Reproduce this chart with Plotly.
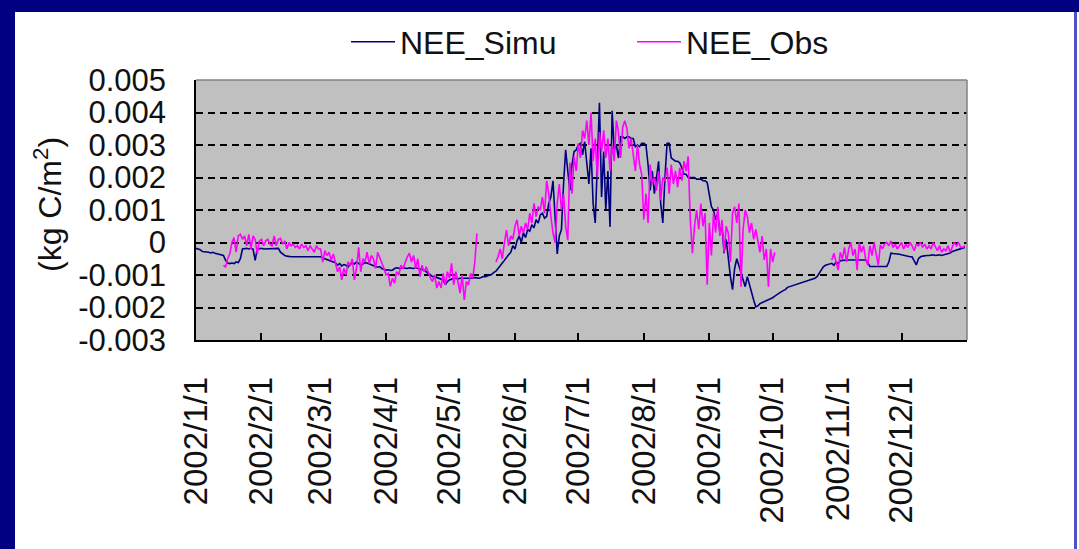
import plotly.graph_objects as go
import pandas as pd

# ---------------- data (g C/m2 per day; converted to kg C/m2 below) ----------------
month_starts = ["2002-01-01", "2002-02-01", "2002-03-01", "2002-04-01", "2002-05-01", "2002-06-01",
                "2002-07-01", "2002-08-01", "2002-09-01", "2002-10-01", "2002-11-01", "2002-12-01"]
x_tick_labels = ["2002/1/1", "2002/2/1", "2002/3/1", "2002/4/1", "2002/5/1", "2002/6/1",
                 "2002/7/1", "2002/8/1", "2002/9/1", "2002/10/1", "2002/11/1", "2002/12/1"]
y_tick_vals = [0.005, 0.004, 0.003, 0.002, 0.001, 0, -0.001, -0.002, -0.003]
y_tick_labels = ["0.005", "0.004", "0.003", "0.002", "0.001", "0", "-0.001", "-0.002", "-0.003"]

simu_jan = [-0.18, -0.2, -0.22, -0.28, -0.28, -0.3, -0.3, -0.32, -0.3, -0.33, -0.35, -0.38, -0.38, -0.4,
            -0.55, -0.63, -0.65, -0.63, -0.65, -0.6, -0.62, -0.5, -0.2, -0.18, -0.18, -0.2, -0.18, -0.2,
            -0.55, -0.2, -0.18]
simu_feb = [-0.18, -0.2, -0.2, -0.18, -0.18, -0.2, -0.2, -0.2, -0.18, -0.3, -0.35, -0.4, -0.42, -0.44,
            -0.44, -0.44, -0.43, -0.44, -0.44, -0.45, -0.44, -0.44, -0.44, -0.46, -0.44, -0.44, -0.44, -0.45]
simu_mar = [-0.44, -0.48, -0.5, -0.52, -0.55, -0.58, -0.6, -0.62, -0.7, -0.65, -0.72, -0.68, -0.7, -0.75,
            -0.68, -0.62, -0.66, -0.6, -0.64, -0.7, -0.66, -0.62, -0.63, -0.66, -0.7, -0.72, -0.74, -0.76,
            -0.74, -0.8, -0.82]
simu_apr = [-0.85, -0.84, -0.86, -0.85, -0.8, -0.78, -0.8, -0.8, -0.78, -0.8, -0.8, -0.78, -0.8, -0.8,
            -0.78, -0.8, -0.8, -0.82, -0.85, -0.9, -0.95, -1.0, -1.05, -1.05, -1.08, -1.1, -1.12, -1.15,
            -1.3, -1.2]
simu_may = [-1.15, -1.12, -1.1, -1.1, -1.12, -1.1, -1.1, -1.1, -1.12, -1.1, -1.1, -1.1, -1.08, -1.1,
            -1.1, -1.08, -1.05, -1.05, -1.02, -1.0, -0.98, -0.92, -0.88, -0.8, -0.7, -0.63, -0.55, -0.45,
            -0.38, -0.3, -0.1]
simu_jun = [-0.2, 0.05, 0.2, 0.0, 0.3, 0.15, 0.4, 0.35, 0.55, 0.45, 0.7, 0.6, 0.85, 0.9, 0.75, 0.8,
            1.2, 1.4, 1.9, 0.6, -0.35, 0.2, 0.4, 1.8, 2.85, 2.2, 1.6, 2.4, 2.8, 2.85]
simu_jul = [3.0, 3.05, 2.7, 3.1, 2.5, 1.8, 2.9, 1.2, 0.6, 2.5, 4.3, 1.4, 2.8, 1.0, 2.2, 0.48, 4.05,
            2.85, 3.0, 2.6, 3.25, 3.25, 3.2, 3.25, 3.25, 3.2, 3.2, 2.95, 3.0, 2.95, 3.05]
simu_aug = [3.05, 3.0, 2.4, 1.6, 2.2, 1.5, 2.0, 2.5, 1.2, 0.6, 2.0, 3.05, 3.05, 2.6, 2.55, 2.5, 2.5,
            2.45, 2.3, 2.1, 2.1, 2.0, 2.0, 2.0, 2.0, 1.95, 1.95, 1.95, 1.9, 1.9, 1.85]
simu_sep = [1.5, 1.1, 1.0, 0.7, 0.9, 0.3, 0.5, -0.33, 0.1, -0.6, -1.05, -1.45, -0.8, -0.5, -0.7, -0.9,
            -1.1, -1.36, -1.05, -1.3, -1.6, -1.77, -1.98, -1.95, -1.88, -1.85, -1.82, -1.8, -1.78, -1.75]
simu_oct = [-1.7, -1.65, -1.6, -1.56, -1.52, -1.48, -1.45, -1.38, -1.36, -1.34, -1.3, -1.28, -1.26,
            -1.25, -1.22, -1.2, -1.18, -1.16, -1.15, -1.12, -1.1, -1.05, -0.95, -0.85, -0.75, -0.7,
            -0.68, -0.66, -0.64, -0.7, -0.6]
simu_nov = [-0.65, -0.56, -0.55, -0.54, -0.54, -0.54, -0.54, -0.55, -0.54, -0.54, -0.54, -0.54, -0.55,
            -0.54, -0.6, -0.74, -0.74, -0.74, -0.74, -0.73, -0.74, -0.74, -0.74, -0.74, -0.6, -0.33,
            -0.34, -0.34, -0.35, -0.36]
simu_dec = [-0.38, -0.4, -0.42, -0.44, -0.44, -0.44, -0.55, -0.69, -0.5, -0.44, -0.42, -0.4, -0.4, -0.4,
            -0.38, -0.38, -0.4, -0.38, -0.38, -0.4, -0.38, -0.36, -0.35, -0.32, -0.28, -0.26, -0.25,
            -0.22, -0.2, -0.17, -0.15]

obs_jan = [None, None, None, None, None, None, None, None, None, None, None, None, None,
           -0.7, -0.75, -0.5, -0.35, 0.0, 0.15, -0.3, 0.2, 0.25, 0.1, 0.2, -0.1, 0.25, -0.2, 0.2, 0.1,
           -0.35, 0.05]
obs_feb = [0.1, -0.1, 0.05, 0.1, -0.05, -0.1, 0.2, -0.1, 0.1, 0.13, -0.05, 0.05, -0.2, 0.0, -0.1,
           -0.05, -0.15, -0.1, -0.2, -0.05, -0.15, -0.1, -0.25, -0.1, -0.2, -0.3, -0.1, -0.2]
obs_mar = [-0.2, -0.6, -0.25, -0.4, -0.3, -0.55, -0.35, -0.6, -0.9, -0.75, -1.15, -0.8, -1.0, -0.6,
           -0.7, -0.5, -1.15, -0.8, -0.15, -0.9, -0.5, -0.6, -0.3, -0.65, -0.4, -0.5, -0.8, -0.3, -0.45,
           -0.6, -0.8]
obs_apr = [-1.0, -0.95, -1.35, -1.1, -1.25, -0.9, -1.0, -0.7, -0.8, -0.6, -0.45, -0.33, -0.6, -0.4,
           -0.8, -0.5, -1.05, -0.7, -0.9, -0.75, -0.95, -1.1, -1.2, -1.0, -1.4, -1.2, -1.4, -0.95, -1.3,
           -0.9]
obs_may = [-1.1, -0.64, -1.3, -0.9, -1.2, -1.56, -1.0, -1.77, -1.2, -1.3, -0.95, -1.1, -0.6, 0.28,
           None, None, None, None, None, None, None, None,
           -0.6, -0.44, -0.2, -0.5, 0.0, 0.38, -0.1, 0.2, 0.1]
obs_jun = [0.5, 0.7, 0.2, 0.5, 0.3, 0.6, 0.4, 0.9, 0.6, 1.2, 0.8, 1.1, 1.0, 1.4, 0.9, 1.9, 1.5, 0.8,
           0.3, 0.0, 1.2, 1.8, 1.0, 1.5, 0.5, 0.07, 2.45, 1.5, 2.65, 2.2]
obs_jul = [3.05, 2.6, 3.45, 3.2, 3.75, 3.0, 4.0, 2.5, 3.2, 2.0, 3.4, 2.8, 3.45, 2.6, 3.2, 2.2, 3.0,
           2.5, 3.75, 3.4, 2.6, 3.55, 3.75, 3.5, 2.9, 3.2, 2.7, 2.2, 3.0, 2.4, 2.1]
obs_aug = [0.7, 1.5, 0.6, 2.4, 1.8, 2.0, 1.6, 2.2, 1.3, 2.0, 1.9, 2.3, 1.5, 2.4, 1.8, 2.2, 1.7, 2.3,
           1.9, 2.5, 2.2, 2.65, 0.7, -0.33, 0.5, 1.0, 0.4, 1.2, 0.5, 0.9, -1.3]
obs_sep = [0.6, -0.4, 0.9, 0.3, 1.1, 0.2, 0.7, -0.3, 0.5, 0.28, -0.6, 0.9, 1.1, 0.6, 1.2, -1.36, 0.4,
           1.0, 0.8, 0.3, 0.6, 0.1, 0.4, 0.0, -0.3, 0.2, -0.54, -0.2, -1.36, -0.2]
obs_oct = [-0.6, -0.3, None, None, None, None, None, None, None, None, None, None, None, None, None,
           None, None, None, None, None, None, None, None, None, None, None, None, None, -0.54, -0.33,
           -0.6]
obs_nov = [-0.85, -0.3, -0.5, -0.15, -0.6, -0.2, 0.0, -0.4, -0.2, -0.85, 0.0, -0.3, -0.1, -0.5, -0.7,
           -0.1, -0.4, 0.0, -0.3, -0.7, -0.07, -0.2, -0.05, 0.0, -0.1, 0.05, -0.15, -0.05, -0.2, -0.1]
obs_dec = [0.0, -0.2, -0.05, -0.15, 0.0, -0.1, -0.25, -0.05, -0.1, 0.0, -0.15, -0.05, -0.2, -0.1, -0.2,
           0.0, -0.15, -0.25, -0.1, -0.3, -0.2, -0.25, -0.1, -0.3, -0.15, 0.0, -0.1, 0.0, -0.15, -0.15,
           -0.1]

simu_months = [simu_jan, simu_feb, simu_mar, simu_apr, simu_may, simu_jun,
               simu_jul, simu_aug, simu_sep, simu_oct, simu_nov, simu_dec]
obs_months = [obs_jan, obs_feb, obs_mar, obs_apr, obs_may, obs_jun,
              obs_jul, obs_aug, obs_sep, obs_oct, obs_nov, obs_dec]


def build(series_months):
    xs, ys = [], []
    for start, vals in zip(month_starts, series_months):
        days = pd.date_range(start, periods=len(vals), freq="D")
        xs.extend(days)
        ys.extend([None if v is None else v / 1000.0 for v in vals])  # g -> kg
    return xs, ys


simu_x, simu_y = build(simu_months)
obs_x, obs_y = build(obs_months)

# ---------------- figure ----------------
W, H = 1079, 549
L, R, T, B = 196, 967, 80, 340  # plot area in pixels
PW, PH = R - L, B - T


def px(xp):
    return (xp - L) / PW


def py(yp):
    return (B - yp) / PH


FONT = "Liberation Sans, Arial, sans-serif"
TXT = "#111111"

fig = go.Figure()
fig.add_trace(go.Scatter(x=simu_x, y=simu_y, mode="lines", name="NEE_Simu",
                         line=dict(color="#000080", width=1.6)))
fig.add_trace(go.Scatter(x=obs_x, y=obs_y, mode="lines", name="NEE_Obs",
                         line=dict(color="#FF00FF", width=1.6), connectgaps=False))

fig.update_layout(
    width=W, height=H,
    margin=dict(l=L, r=W - R, t=T, b=H - B, pad=0),
    paper_bgcolor="white",
    plot_bgcolor="#C0C0C0",
    font=dict(family=FONT, size=31, color=TXT),
    showlegend=True,
    legend=dict(orientation="h", x=px(346), xanchor="left", y=py(42), yanchor="middle",
                bgcolor="rgba(0,0,0,0)", font=dict(size=32, color=TXT), entrywidth=227,
                itemwidth=44, traceorder="normal"),
    xaxis=dict(
        type="date",
        range=["2002-01-01", "2003-01-01"],
        tickvals=month_starts,
        ticktext=x_tick_labels,
        tickangle=-90,
        ticks="inside", ticklen=7, tickwidth=1.5, tickcolor="black",
        showline=True, linecolor="black", linewidth=1.5,
        showgrid=False, zeroline=False,
        ticklabelstandoff=22,
        tickfont=dict(size=33, color=TXT),
    ),
    yaxis=dict(
        range=[-0.003, 0.005],
        tickvals=y_tick_vals,
        ticktext=y_tick_labels,
        ticks="inside", ticklen=6, tickwidth=1.5, tickcolor="black",
        showline=True, linecolor="black", linewidth=1.5,
        showgrid=True, gridcolor="black", gridwidth=1.8, griddash="7px,5px",
        zeroline=False,
        ticklabelstandoff=22,
        tickfont=dict(size=31, color=TXT),
    ),
    annotations=[dict(text="(kg C/m<sup>2</sup>)", x=px(48), y=py(205), xref="paper", yref="paper",
                      textangle=-90, showarrow=False, xanchor="center", yanchor="middle",
                      font=dict(size=32, color=TXT))],
    shapes=[
        # plot area outer frame (top/right grey)
        dict(type="line", xref="paper", yref="paper", x0=0, x1=1, y0=1, y1=1,
             line=dict(color="#808080", width=1.5)),
        dict(type="line", xref="paper", yref="paper", x0=1, x1=1, y0=0, y1=1,
             line=dict(color="#808080", width=1.5)),
        # slide frame
        dict(type="rect", xref="paper", yref="paper", x0=px(0), x1=px(W), y0=py(0), y1=py(12),
             fillcolor="#000080", line=dict(width=0), layer="below"),
        dict(type="rect", xref="paper", yref="paper", x0=px(0), x1=px(15), y0=py(0), y1=py(H),
             fillcolor="#000080", line=dict(width=0), layer="below"),
        dict(type="rect", xref="paper", yref="paper", x0=px(1074), x1=px(1077), y0=py(12), y1=py(H),
             fillcolor="#5050C8", line=dict(width=0), layer="below"),
    ],
)

fig.write_html("out.html", config={"displayModeBar": False},
               post_script="document.body.style.margin='0';document.body.style.overflow='hidden';")
